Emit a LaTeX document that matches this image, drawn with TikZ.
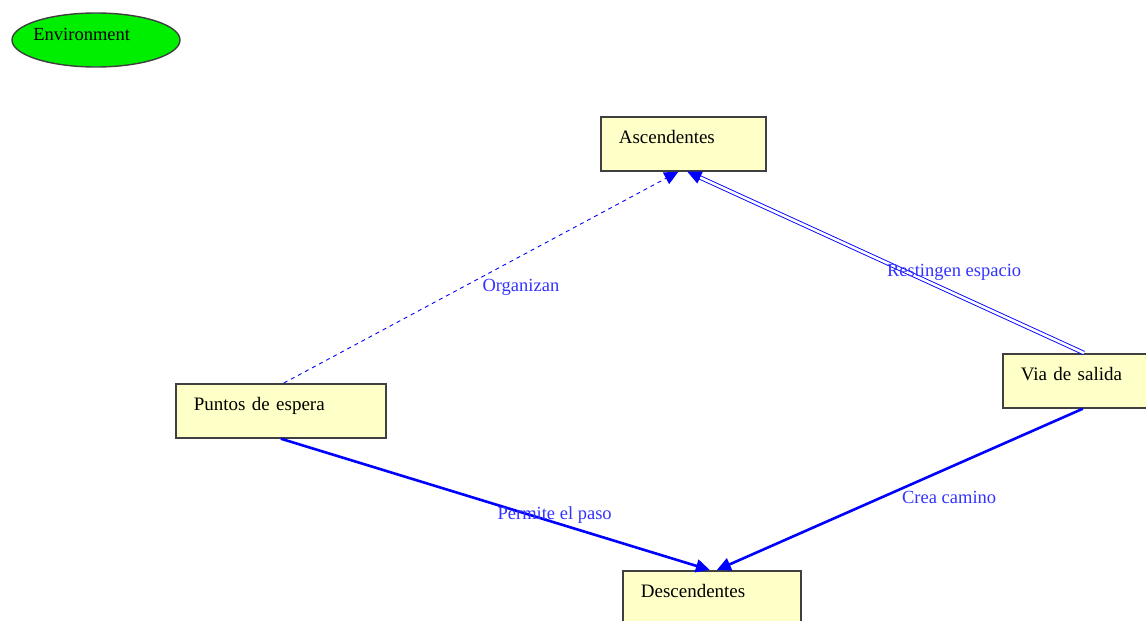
\documentclass[tikz,border=0pt]{standalone}
\usepackage{fontspec}
\setmainfont{Liberation Serif}
\usetikzlibrary{arrows.meta,shapes.geometric}
\definecolor{boxfill}{RGB}{255,255,200}
\definecolor{envgreen}{RGB}{0,238,0}
\definecolor{linkblue}{RGB}{0,0,255}
\definecolor{textblue}{RGB}{51,51,255}
\definecolor{rim}{RGB}{64,64,64}

\begin{document}
\begin{tikzpicture}[x=1pt, y=1pt, > = {Triangle[length=14pt,width=13pt]},
    actor/.style = {draw=rim, line width=1.7pt, fill=boxfill, rectangle, anchor=north west,
                    inner xsep=18pt, inner ysep=0pt, text height=27pt, text depth=27pt,
                    align=left, font=\fontsize{19}{22}\selectfont},
    env/.style = {draw=rim, line width=1.4pt, fill=envgreen, ellipse, inner sep=0pt,
                  minimum width=168pt, minimum height=54pt, text height=12pt, text depth=12pt,
                  font=\fontsize{18.5}{22}\selectfont},
    link/.style = {draw=linkblue, ->},
    weak/.style = {link, line width=0.9pt, dash pattern=on 4pt off 4pt},
    strong/.style = {link, line width=2.6pt},
    twin/.style = {link, line width=0.9pt, double=white, double distance=2.6pt},
    tag/.style = {text=textblue, anchor=north west, inner sep=1pt, font=\fontsize{18.5}{22}\selectfont}]

    \useasboundingbox (0,0) rectangle (1146,-621);

    % nodes
    \node[env] (env) at (96,-40) {\makebox[68pt][r]{Environment}};
    \node[actor, text width=129pt] (asc) at (600,-116) {Ascendentes};
    \node[actor, text width=174pt] (pun) at (175,-383) {Puntos de espera};
    \node[actor, text width=124pt] (via) at (1002,-353) {Via de salida};
    \node[actor, text width=142pt] (desc) at (622,-570) {Descendentes};

    % relations
    \draw[weak] ([xshift=3pt]pun.north) -- ([xshift=-5pt]asc.south) node[tag, midway] {Organizan};
    \draw[twin] ([xshift=1pt]via.north) -- ([xshift=4pt]asc.south) node[tag, midway] {Restingen espacio};
    \draw[strong] (pun.south) -- ([xshift=-2pt]desc.south |- desc.north) node[tag, midway] {Permite el paso};
    \draw[strong] (via.south) -- ([xshift=5pt]desc.south |- desc.north) node[tag, midway] {Crea camino};

\end{tikzpicture}
\end{document}
